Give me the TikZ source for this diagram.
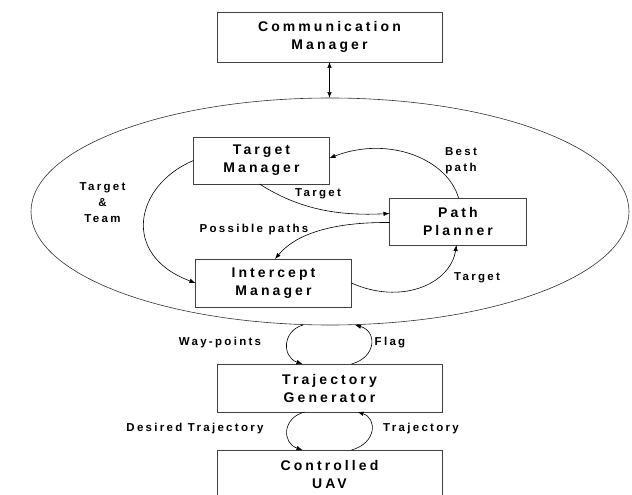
\documentclass[tikz,border=0pt]{standalone}
\usepackage{fontspec}
\setmainfont{Liberation Sans}
\newfontfamily\boxfont[LetterSpace=22]{Liberation Sans Bold}
\newfontfamily\labfont[LetterSpace=20]{Liberation Sans Bold}
\usetikzlibrary{arrows.meta,calc,shapes.geometric}
\begin{document}
\begin{tikzpicture}[x=1pt,y=-1pt,
  box/.style={draw=black!75, line width=0.6pt, align=center, inner sep=0pt, outer sep=0pt,
              font=\boxfont\fontsize{14}{18}\selectfont},
  lab/.style={align=center, inner sep=0pt, font=\labfont\fontsize{11.5}{16}\selectfont},
  arr/.style={line width=0.6pt, -{Latex[length=6pt,width=4.5pt]}},
  dbl/.style={line width=0.6pt, {Latex[length=6pt,width=4.5pt]}-{Latex[length=6pt,width=4.5pt]}},
]
\useasboundingbox (0,0) rectangle (632,495);
\clip (0,0) rectangle (632,495);

% boxes
\node[box, minimum width=225pt, minimum height=50pt] (comm) at (329.5,37) {Communication\\Manager};
\node[draw=black!80, line width=0.6pt, ellipse, inner sep=0pt, outer sep=0pt,
      minimum width=598pt, minimum height=227pt] (ell) at (330,211.5) {};
\node[box, minimum width=136pt, minimum height=47pt] (tm) at (261.5,160.5) {Target\\Manager};
\node[box, minimum width=137pt, minimum height=47pt] (pp) at (458,221.5) {Path\\Planner};
\node[box, minimum width=156pt, minimum height=48pt] (im) at (273.5,283) {Intercept\\Manager};
\node[box, minimum width=225pt, minimum height=48pt] (tg) at (329.5,388) {Trajectory\\Generator};
\node[box, minimum width=225pt, minimum height=48pt] (uav) at (329.5,474) {Controlled\\UAV};

% comm <-> ellipse
\draw[dbl] (comm.south) -- (comm.south |- ell.north);

% connectors inside the ellipse
\draw[arr] (tm.west) .. controls (135,185) and (120,255) .. (im.west);
\draw[arr] ($(tm.south)+(-2,0)$) .. controls (300,210) and (340,216) .. ($(pp.west)+(0,-8)$);
\draw[arr] ($(pp.west)+(0,1)$) .. controls (330,222) and (295,235) .. ($(im.north)+(1.5,0)$);
\draw[arr] ($(pp.north)+(0.5,0)$) .. controls (448,160) and (390,135) .. ($(tm.east)+(0,-2.5)$);
\draw[arr] (im.east) .. controls (400,305) and (450,285) .. ($(pp.south)+(-1.5,0)$);

% loops between ellipse and trajectory generator
\coordinate (e1) at ($(ell.south)+(-27,0)$);
\coordinate (e2) at ($(ell.south)+(25,0)$);
\draw[arr] (e1) .. controls (282,331) and (282,357) .. ($(tg.north)+(-27,0)$);
\draw[arr] ($(tg.north)+(22,0)$) .. controls (377,357) and (377,331) .. (e2);

% loops between trajectory generator and UAV
\draw[arr] ($(tg.south)+(-25,0)$) .. controls (282,418) and (282,443) .. ($(uav.north)+(-27,0)$);
\draw[arr] ($(uav.north)+(22,0)$) .. controls (377,443) and (377,418) .. ($(tg.south)+(28,0)$);

% labels
\node[lab] (l1) at (102.5,203) {Target\\\&\\Team};
\node[lab] (l2) at (461,160.5) {Best\\path};
\node[lab] (l3) at (318,194) {Target};
\node[lab] (l4) at (254,230) {Possible paths};
\node[lab] (l5) at (477,278) {Target};
\node[lab] (l6) at (220,343) {Way-points};
\node[lab] (l7) at (390,343) {Flag};
\node[lab] (l8) at (195,429) {Desired Trajectory};
\node[lab] (l9) at (421,429) {Trajectory};
\end{tikzpicture}
\end{document}
